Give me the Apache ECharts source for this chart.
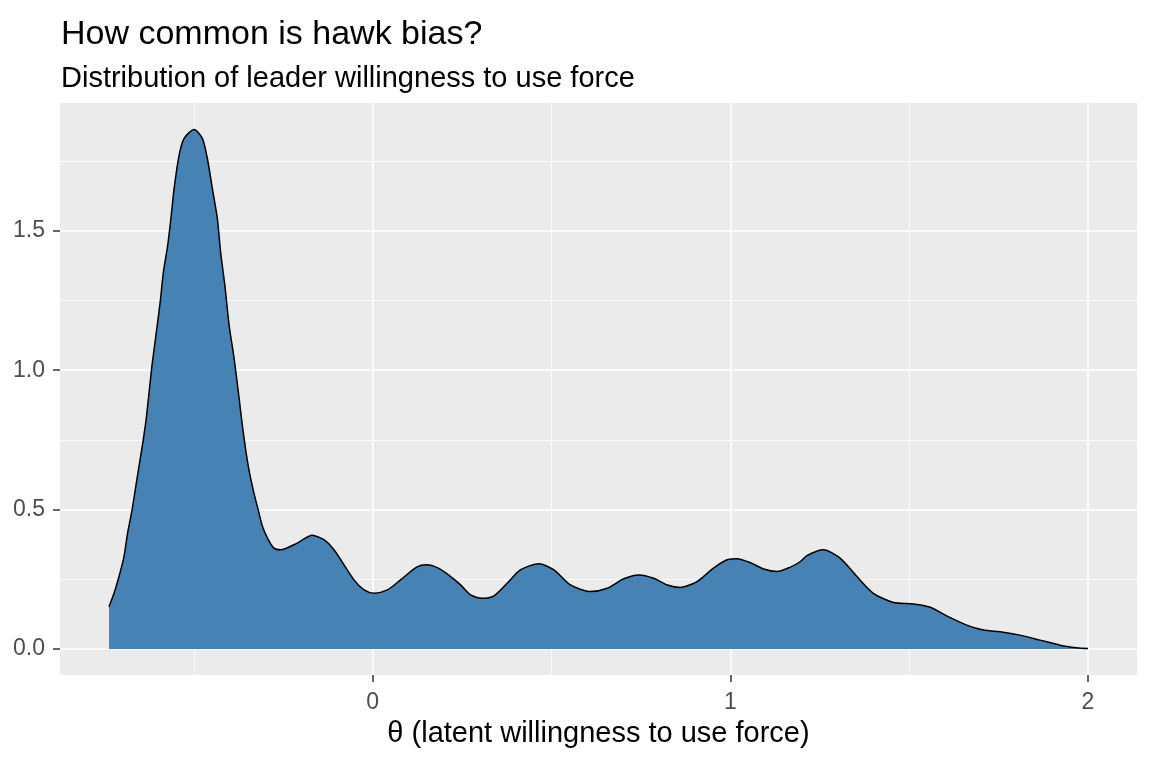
<!DOCTYPE html>
<html>
<head>
<meta charset="utf-8">
<script src="https://cdn.jsdelivr.net/npm/echarts@6/dist/echarts.min.js"></script>
<style>
html,body{margin:0;padding:0;background:#fff;}
#chart{width:1152px;height:768px;}
</style>
</head>
<body>
<div id="chart"></div>
<script>
// Density estimate (theta, density)
var thetaValues = [
  -0.737, -0.723, -0.709, -0.695, -0.685, -0.674, -0.662, -0.650, -0.641, -0.632,
  -0.618, -0.606, -0.594, -0.585, -0.573, -0.564, -0.555, -0.541, -0.527, -0.499,
  -0.476, -0.462, -0.448, -0.434, -0.425, -0.413, -0.401, -0.387, -0.373, -0.364,
  -0.355, -0.346, -0.332, -0.320, -0.308, -0.294, -0.276, -0.257,
  -0.211, -0.169, -0.136, -0.108, -0.052, -0.024, 0.004, 0.041,
  0.078, 0.123, 0.151, 0.184, 0.212, 0.246, 0.274, 0.306, 0.339, 0.376,
  0.413, 0.465, 0.507, 0.553, 0.609, 0.656, 0.702, 0.744, 0.786, 0.824,
  0.860, 0.907, 0.953, 0.991, 1.019, 1.056, 1.093, 1.131, 1.168, 1.196,
  1.214, 1.260, 1.307, 1.354, 1.400, 1.456, 1.512, 1.559, 1.605, 1.661,
  1.708, 1.754, 1.810, 1.866, 1.922, 1.968, 2.000
];
var densityValues = [
  0.152, 0.200, 0.260, 0.332, 0.416, 0.488, 0.584, 0.680, 0.752, 0.836,
  1.004, 1.123, 1.243, 1.351, 1.447, 1.543, 1.651, 1.771, 1.831, 1.863,
  1.831, 1.759, 1.651, 1.543, 1.423, 1.303, 1.159, 1.040, 0.896, 0.800,
  0.716, 0.644, 0.560, 0.500, 0.440, 0.398, 0.362, 0.356,
  0.380, 0.408, 0.392, 0.356, 0.248, 0.212, 0.200, 0.212,
  0.248, 0.294, 0.302, 0.290, 0.266, 0.230, 0.194, 0.182, 0.191, 0.236,
  0.284, 0.306, 0.284, 0.230, 0.206, 0.218, 0.252, 0.266, 0.254, 0.230,
  0.221, 0.242, 0.290, 0.320, 0.324, 0.310, 0.287, 0.278, 0.294, 0.314,
  0.335, 0.356, 0.326, 0.260, 0.200, 0.167, 0.162, 0.150, 0.119, 0.086,
  0.068, 0.062, 0.050, 0.032, 0.014, 0.005, 0.002
];
var xMajorTicks = [0, 1, 2];
var xMinorTicks = [-0.5, 0.5, 1.5];
var yMajorTicks = [0, 0.5, 1, 1.5];
var yMinorTicks = [0.25, 0.75, 1.25, 1.75];
var yTickLabels = ['0.0', '0.5', '1.0', '1.5'];

var titleText = 'How common is hawk bias?';
var subtitleText = 'Distribution of leader willingness to use force';
var xAxisTitle = 'θ (latent willingness to use force)';

var xMin = -0.874, xMax = 2.137;
var yMin = -0.093, yMax = 1.958;

var seriesData = thetaValues.map(function (t, i) { return [t, densityValues[i]]; });

var FONT = '"Liberation Sans", Arial, sans-serif';

var chart = echarts.init(document.getElementById('chart'), null, {renderer: 'canvas'});
chart.setOption({
  animation: false,
  backgroundColor: '#ffffff',
  title: {
    text: titleText,
    subtext: subtitleText,
    left: 56,
    top: 13,
    itemGap: 12,
    textStyle: {fontFamily: FONT, fontSize: 34, fontWeight: 'normal', color: '#000000'},
    subtextStyle: {fontFamily: FONT, fontSize: 29, color: '#000000'}
  },
  grid: {
    left: 60, right: 15, top: 103, bottom: 93,
    show: true, backgroundColor: '#EBEBEB', borderWidth: 0,
    containLabel: false
  },
  xAxis: [
    {
      type: 'value', min: xMin, max: xMax, position: 'bottom',
      name: xAxisTitle, nameLocation: 'middle', nameGap: 44,
      nameTextStyle: {fontFamily: FONT, fontSize: 29, color: '#000000'},
      axisLine: {show: false, onZero: false},
      axisTick: {show: true, length: 7, customValues: xMajorTicks, lineStyle: {color: '#333333', width: 1.5}},
      axisLabel: {show: true, margin: 16, customValues: xMajorTicks, fontFamily: FONT, fontSize: 23, color: '#4D4D4D',
        formatter: function (v) { return String(v); }},
      splitLine: {show: true, lineStyle: {color: '#FFFFFF', width: 1.6}}
    },
    {
      type: 'value', min: xMin, max: xMax, position: 'top',
      axisLine: {show: false, onZero: false},
      axisTick: {show: false, customValues: xMinorTicks},
      axisLabel: {show: false, customValues: xMinorTicks},
      splitLine: {show: true, lineStyle: {color: '#FFFFFF', width: 0.8}}
    }
  ],
  yAxis: [
    {
      type: 'value', min: yMin, max: yMax, position: 'left',
      axisLine: {show: false, onZero: false},
      axisTick: {show: true, length: 7, customValues: yMajorTicks, lineStyle: {color: '#333333', width: 1.5}},
      axisLabel: {show: true, margin: 15, customValues: yMajorTicks, fontFamily: FONT, fontSize: 23, color: '#4D4D4D',
        formatter: function (v) {
          var i = yMajorTicks.indexOf(Math.round(v * 100) / 100);
          return i >= 0 ? yTickLabels[i] : '';
        }},
      splitLine: {show: true, lineStyle: {color: '#FFFFFF', width: 1.6}}
    },
    {
      type: 'value', min: yMin, max: yMax, position: 'right',
      axisLine: {show: false, onZero: false},
      axisTick: {show: false, customValues: yMinorTicks},
      axisLabel: {show: false, customValues: yMinorTicks},
      splitLine: {show: true, lineStyle: {color: '#FFFFFF', width: 0.8}}
    }
  ],
  series: [
    {
      type: 'line',
      xAxisIndex: 0, yAxisIndex: 0,
      data: seriesData,
      showSymbol: false,
      smooth: 0.25,
      lineStyle: {color: '#000000', width: 1.5},
      itemStyle: {color: '#000000'},
      areaStyle: {color: '#4682B4', opacity: 1, origin: 'auto'},
      z: 3
    }
  ]
});
</script>
</body>
</html>
